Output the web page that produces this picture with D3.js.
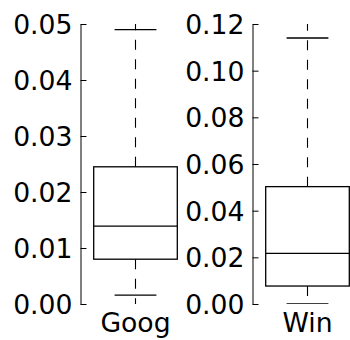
<!DOCTYPE html>
<html>
<head>
<meta charset="utf-8">
<script src="https://cdn.jsdelivr.net/npm/d3@7"></script>
<style>
  html, body { margin: 0; padding: 0; background: #fff; }
  svg { display: block; }
</style>
</head>
<body>
<script>
// ---- data ----
const categories = ["Goog", "Win"];
const yMax       = [0.05, 0.12];
const tickStep   = [0.01, 0.02];
const q1         = [0.0080, 0.0077];
const median     = [0.0139, 0.0217];
const q3         = [0.0245, 0.0503];
const capLo      = [0.0016, 0.0000];
const capHi      = [0.0490, 0.1140];
const whiskerLo  = [0.0000, 0.0000];
const whiskerHi  = [0.0500, 0.1200];

// ---- layout ----
const W = 350, H = 340;
const axLeft = [80.5, 252.5];
const axW = 110, axTop = 24, axH = 280;
const boxWidth = 0.76;   // in x data units
const capWidth = 0.38;
const fontSize = 26.67;
const font = "'DejaVu Sans', sans-serif";

const svg = d3.select("body").append("svg")
  .attr("width", W).attr("height", H);

categories.forEach((cat, i) => {
  const g = svg.append("g").attr("transform", `translate(${axLeft[i]},${axTop})`);
  const x = d3.scaleLinear().domain([0.5, 1.5]).range([0, axW]);
  const y = d3.scaleLinear().domain([0, yMax[i]]).range([axH, 0]);

  const clipId = "clip" + i;
  g.append("clipPath").attr("id", clipId)
    .append("rect").attr("x", 0).attr("y", 0).attr("width", axW).attr("height", axH);

  // axis
  const ticks = d3.range(0, yMax[i] + tickStep[i] / 2, tickStep[i]);
  const axis = d3.axisLeft(y).tickValues(ticks).tickFormat(d3.format(".2f"))
    .tickSizeInner(-6).tickSizeOuter(0).tickPadding(8);
  const ag = g.append("g").call(axis);
  ag.select(".domain").attr("stroke", "#000").attr("stroke-width", 1);
  ag.selectAll(".tick line").attr("stroke", "#000").attr("stroke-width", 1);
  ag.selectAll(".tick text")
    .attr("font-family", font).attr("font-size", fontSize)
    .attr("fill", "#000").attr("dy", "0.36em");

  const pg = g.append("g").attr("clip-path", `url(#${clipId})`);
  const cx = x(1);
  const bl = x(1 - boxWidth / 2), br = x(1 + boxWidth / 2);

  // whiskers (dashed)
  pg.append("path")
    .attr("d", `M${cx},${y(q3[i])}L${cx},${y(whiskerHi[i])}`)
    .attr("stroke", "#000").attr("stroke-width", 1.1)
    .attr("stroke-dasharray", "10,9.5").attr("fill", "none");
  pg.append("path")
    .attr("d", `M${cx},${y(q1[i])}L${cx},${y(whiskerLo[i])}`)
    .attr("stroke", "#000").attr("stroke-width", 1.1)
    .attr("stroke-dasharray", "10,9.5").attr("fill", "none");

  // caps
  [capLo[i], capHi[i]].forEach(v => {
    pg.append("line")
      .attr("x1", x(1 - capWidth / 2)).attr("x2", x(1 + capWidth / 2))
      .attr("y1", y(v)).attr("y2", y(v))
      .attr("stroke", "#000").attr("stroke-width", 1.3);
  });

  // box
  pg.append("rect")
    .attr("x", bl).attr("y", y(q3[i]))
    .attr("width", br - bl).attr("height", y(q1[i]) - y(q3[i]))
    .attr("fill", "none").attr("stroke", "#000").attr("stroke-width", 1.3);

  // median
  pg.append("line")
    .attr("x1", bl).attr("x2", br)
    .attr("y1", y(median[i])).attr("y2", y(median[i]))
    .attr("stroke", "#000").attr("stroke-width", 1.3);

  // category label
  g.append("text")
    .attr("x", cx).attr("y", axH + 28)
    .attr("text-anchor", "middle")
    .attr("font-family", font).attr("font-size", fontSize)
    .attr("fill", "#000")
    .text(cat);
});
</script>
</body>
</html>
